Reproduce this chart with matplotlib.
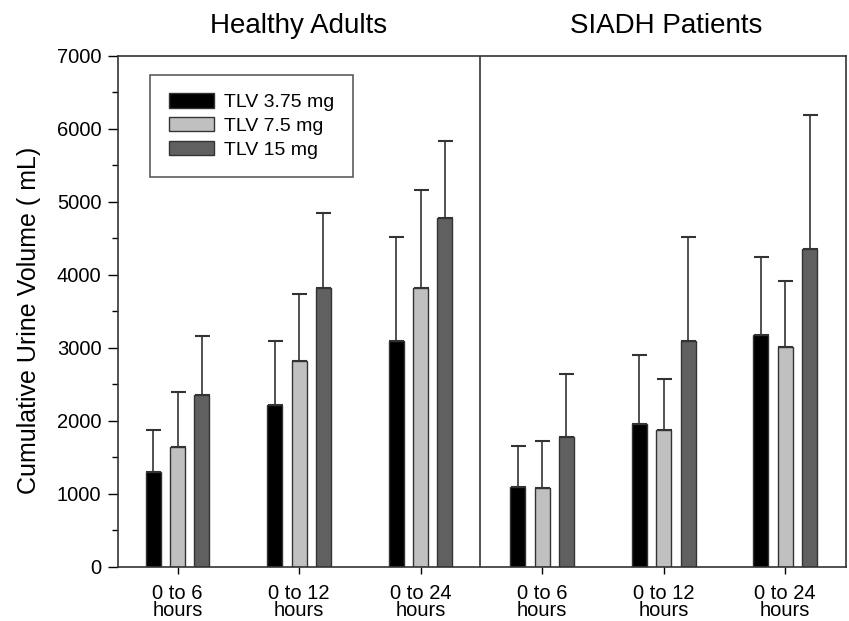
import matplotlib
matplotlib.use("Agg")
import matplotlib.pyplot as plt
from matplotlib.ticker import MultipleLocator
import numpy as np

plt.rcParams['font.family'] = ['Liberation Sans', 'DejaVu Sans']

categories = ["0 to 6\nhours", "0 to 12\nhours", "0 to 24\nhours",
              "0 to 6\nhours", "0 to 12\nhours", "0 to 24\nhours"]
groups = ["Healthy Adults", "SIADH Patients"]
series = ["TLV 3.75 mg", "TLV 7.5 mg", "TLV 15 mg"]
tlv_375 = [1300, 2220, 3090, 1100, 1960, 3180]
tlv_375_err = [580, 870, 1430, 560, 940, 1070]
tlv_75 = [1650, 2820, 3820, 1080, 1880, 3010]
tlv_75_err = [750, 920, 1350, 650, 700, 910]
tlv_15 = [2350, 3820, 4780, 1780, 3090, 4350]
tlv_15_err = [810, 1030, 1060, 860, 1430, 1840]

colors = ["#000000", "#c0c0c0", "#606060"]
values = [tlv_375, tlv_75, tlv_15]
errs = [tlv_375_err, tlv_75_err, tlv_15_err]

fig = plt.figure(figsize=(8.49, 6.21), dpi=100)
ax = fig.add_axes([0.139, 0.087, 0.8575, 0.823])

x = np.arange(len(categories))
width = 0.123
offsets = [-0.2, 0.0, 0.2]
for vals, err, col, off, lab in zip(values, errs, colors, offsets, series):
    ax.bar(x + off, vals, width, color=col, edgecolor="#333333", linewidth=1.0,
           label=lab, zorder=2)
    ax.errorbar(x + off, vals, yerr=[np.zeros(len(vals)), err], fmt="none",
                ecolor="#333333", elinewidth=1.2, capsize=5.4, capthick=1.5, zorder=1)

ax.set_xlim(-0.49, 5.5)
ax.set_ylim(0, 7000)
ax.axvline(2.49, color="#333333", linewidth=1.2)
ax.yaxis.set_major_locator(MultipleLocator(1000))
ax.yaxis.set_minor_locator(MultipleLocator(500))
ax.set_xticks(x)
ax.set_xticklabels(categories, fontsize=14.5, linespacing=0.9)
ax.tick_params(axis="y", which="major", direction="out", length=7, width=1, labelsize=14.5, pad=5)
ax.tick_params(axis="y", which="minor", direction="out", length=4, width=1)
ax.tick_params(axis="x", direction="out", length=5, width=1, pad=7)
for s in ax.spines.values():
    s.set_color("#333333")
    s.set_linewidth(1.2)

ax.set_ylabel("Cumulative Urine Volume ( mL)", fontsize=18, labelpad=11)
ax.yaxis.label.set_y(0.483)

ax.text(0.995, 7230, groups[0], ha="center", va="bottom", fontsize=20)
ax.text(4.02, 7230, groups[1], ha="center", va="bottom", fontsize=20)

leg = ax.legend(loc="upper left", bbox_to_anchor=(0.044, 0.963), fontsize=14,
                frameon=True, fancybox=False, edgecolor="#333333",
                handlelength=2.35, handleheight=0.75, handletextpad=0.5,
                labelspacing=0.3, borderpad=0.95, borderaxespad=0)
leg.get_frame().set_linewidth(1.2)

fig.savefig("out.png", dpi=100)
